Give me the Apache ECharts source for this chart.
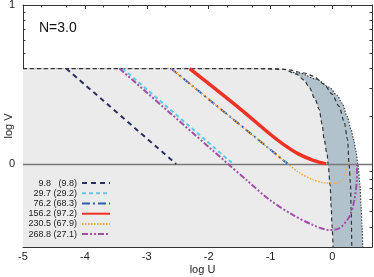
<!DOCTYPE html>
<html>
<head>
<meta charset="utf-8">
<script src="https://cdn.jsdelivr.net/npm/echarts@6/dist/echarts.min.js"></script>
<style>html,body{margin:0;padding:0;background:#fff}#c{width:374px;height:277px}</style>
</head>
<body>
<div id="c"></div>
<script>
// ---- data (log U, log V) ----
const xTickLabels = [-5, -4, -3, -2, -1, 0];
const yTickLabels = [0, 1];
const xMinorTicks = [-4.699, -4.301, -3.699, -3.301, -2.699, -2.301, -1.699, -1.301, -0.699, -0.301, 0.301];
const yMinorTicks = [-0.398, -0.301, -0.222, -0.155, -0.097, -0.046, 0.301, 0.477, 0.602, 0.699, 0.778, 0.845, 0.903, 0.954];

const outerU = [-5, -1.28, -0.86, -0.537, -0.263, -0.053, 0.076, 0.156, 0.237, 0.302, 0.342, 0.382, 0.41, 0.447, 0.463, 0.479, 0.49];
const outerV = [0.6, 0.6, 0.59, 0.572, 0.534, 0.483, 0.432, 0.382, 0.30, 0.217, 0.154, 0.078, 0, -0.131, -0.27, -0.397, -0.523];

const middleU = [-1.15, -0.747, -0.456, -0.311, -0.134, -0.005, 0.108, 0.189, 0.245, 0.269, 0.294, 0.302, 0.313];
const middleV = [0.6, 0.594, 0.572, 0.553, 0.502, 0.439, 0.362, 0.268, 0.154, 0, -0.137, -0.27, -0.523];

const innerU = [-5, -1.02, -0.795, -0.585, -0.456, -0.376, -0.279, -0.215, -0.166, -0.134, -0.085, -0.07, -0.037, -0.02, -0.005, 0.011];
const innerV = [0.6, 0.6, 0.597, 0.565, 0.527, 0.483, 0.407, 0.344, 0.249, 0.154, 0.059, 0, -0.131, -0.27, -0.397, -0.523];

const names = ['9.8', '29.7', '76.2', '156.2', '230.5', '268.8'];
const namesParen = ['9.8', '29.2', '68.3', '97.2', '67.9', '27.1'];

const s1U = [-4.3, -2.526];
const s1V = [0.6, 0];
const s2U = [-3.387, -1.607];
const s2V = [0.6, 0];
const s3U = [-2.606, -0.72];
const s3V = [0.6, 0];
const s4U = [-2.306, -1.5, -1.0, -0.78, -0.55, -0.32, -0.1];
const s4V = [0.6, 0.35, 0.185, 0.12, 0.063, 0.024, 0];
const s5U = [-2.606, -0.72, -0.53, -0.317, -0.102, 0.087, 0.194, 0.25];
const s5V = [0.6, 0, -0.057, -0.099, -0.12, -0.12, -0.078, 0];
const s6U = [-3.44, -1.687, -1.392, -1.016, -0.639, -0.316, -0.048, 0.113, 0.274, 0.355, 0.394, 0.398];
const s6V = [0.6, 0, -0.1, -0.226, -0.321, -0.384, -0.416, -0.405, -0.332, -0.226, -0.1, 0];

const zip = (a, b) => a.map((v, i) => [v, b[i]]);
const FONT = '"Liberation Sans", Arial, sans-serif';
const XMIN = -5, XMAX = 0.64, YMIN = -0.523, YMAX = 1;

const chart = echarts.init(document.getElementById('c'), null, {renderer: 'canvas'});

function xAx(extra) {
  return Object.assign({
    type: 'value', min: XMIN, max: XMAX, splitLine: {show: false},
    axisLine: {onZero: false, lineStyle: {color: '#333', width: 1}},
  }, extra);
}
function yAx(extra) {
  return Object.assign({
    type: 'value', min: YMIN, max: YMAX, splitLine: {show: false},
    axisLine: {onZero: false, lineStyle: {color: '#333', width: 1}},
  }, extra);
}

const lineDefs = [
  {u: s1U, v: s1V, color: '#2b2d5e', width: 2, type: [5, 4]},
  {u: s2U, v: s2V, color: '#5ccbe3', width: 2, type: [4, 3]},
  {u: s3U, v: s3V, color: '#2c5db0', width: 2, type: [8, 3, 2, 3]},
  {u: s4U, v: s4V, color: '#ee3224', width: 3.5, type: 'solid'},
  {u: s5U, v: s5V, color: '#f5a84a', width: 1.5, type: [1.5, 1.5]},
  {u: s6U, v: s6V, color: '#a24fa8', width: 2, type: [6, 2, 2, 2, 2, 2]},
];

const series = [
  {type: 'line', data: zip(outerU, outerV), symbol: 'none', smooth: 0.3, smoothMonotone: 'x',
   lineStyle: {width: 1.2, color: '#444', type: [1.5, 1.5]},
   areaStyle: {origin: 'start', color: '#b2c2cd', opacity: 1}, z: 1},
  {type: 'line', data: zip(innerU, innerV), symbol: 'none', smooth: 0.3, smoothMonotone: 'x',
   lineStyle: {width: 1.2, color: '#333', type: [4, 3]},
   areaStyle: {origin: 'start', color: '#ebebeb', opacity: 1}, z: 2,
   markLine: {silent: true, symbol: 'none', label: {show: false},
     lineStyle: {color: '#777', width: 1.4, type: 'solid'}, data: [{yAxis: 0}]}},
  {type: 'line', data: zip(middleU, middleV), symbol: 'none', smooth: 0.3, smoothMonotone: 'x',
   lineStyle: {width: 1.2, color: '#333', type: [4, 3]}, z: 3},
];
lineDefs.forEach((d, i) => {
  series.push({
    name: names[i], type: 'line', data: zip(d.u, d.v), symbol: 'none', smooth: 0.3,
    lineStyle: {color: d.color, width: d.width, type: d.type}, itemStyle: {color: d.color}, z: 5
  });
});

const legendRich = {
  a: {width: 23, align: 'right', fontFamily: FONT, fontSize: 9, lineHeight: 10.2, color: '#222'},
  b: {width: 26, align: 'right', fontFamily: FONT, fontSize: 9, lineHeight: 10.2, color: '#222'}
};

chart.setOption({
  animation: false,
  backgroundColor: '#fff',
  title: {text: 'N=3.0', left: 34, top: 16, textStyle: {fontFamily: FONT, fontSize: 14, fontWeight: 'normal', color: '#111'}},
  grid: {left: 23, right: 2, top: 5, bottom: 30, containLabel: false, outerBoundsMode: 'none'},
  legend: {
    data: names, orient: 'vertical', left: 28, top: 178, itemGap: 0, align: 'right',
    itemWidth: 28, itemHeight: 8, padding: 0,
    itemStyle: {opacity: 0},
    formatter: (n) => '{a|' + n + '}{b|(' + namesParen[names.indexOf(n)] + ')}',
    textStyle: {fontFamily: FONT, fontSize: 9, color: '#222', lineHeight: 10.2, rich: legendRich}
  },
  xAxis: [
    xAx({position: 'bottom', name: 'log U', nameLocation: 'middle', nameGap: 17, nameMoveOverlap: false,
      nameTextStyle: {fontFamily: FONT, fontSize: 11, color: '#222', padding: [0, 0, 0, 10]},
      axisTick: {inside: true, length: 4, customValues: xTickLabels, lineStyle: {color: '#333'}},
      axisLabel: {customValues: xTickLabels, fontFamily: FONT, fontSize: 11, color: '#222', margin: 4}}),
    xAx({position: 'bottom', axisLine: {show: false, onZero: false},
      axisTick: {inside: true, length: 2.5, customValues: xMinorTicks, lineStyle: {color: '#333'}},
      axisLabel: {show: false}}),
    xAx({position: 'top',
      axisTick: {inside: true, length: 4, customValues: xTickLabels, lineStyle: {color: '#333'}},
      axisLabel: {show: false}}),
    xAx({position: 'top', axisLine: {show: false, onZero: false},
      axisTick: {inside: true, length: 2.5, customValues: xMinorTicks, lineStyle: {color: '#333'}},
      axisLabel: {show: false}}),
  ],
  yAxis: [
    yAx({position: 'left', name: 'log V', nameLocation: 'middle', nameGap: 9, nameMoveOverlap: false,
      nameTextStyle: {fontFamily: FONT, fontSize: 11, color: '#222'},
      axisTick: {inside: true, length: 4, customValues: yTickLabels, lineStyle: {color: '#333'}},
      axisLabel: {customValues: yTickLabels, fontFamily: FONT, fontSize: 11, color: '#222', margin: 8}}),
    yAx({position: 'left', axisLine: {show: false, onZero: false},
      axisTick: {inside: true, length: 2.5, customValues: yMinorTicks, lineStyle: {color: '#333'}},
      axisLabel: {show: false}}),
    yAx({position: 'right',
      axisTick: {inside: true, length: 4, customValues: yTickLabels, lineStyle: {color: '#333'}},
      axisLabel: {show: false}}),
    yAx({position: 'right', axisLine: {show: false, onZero: false},
      axisTick: {inside: true, length: 2.5, customValues: yMinorTicks, lineStyle: {color: '#333'}},
      axisLabel: {show: false}}),
  ],
  series: series
});
</script>
</body>
</html>
